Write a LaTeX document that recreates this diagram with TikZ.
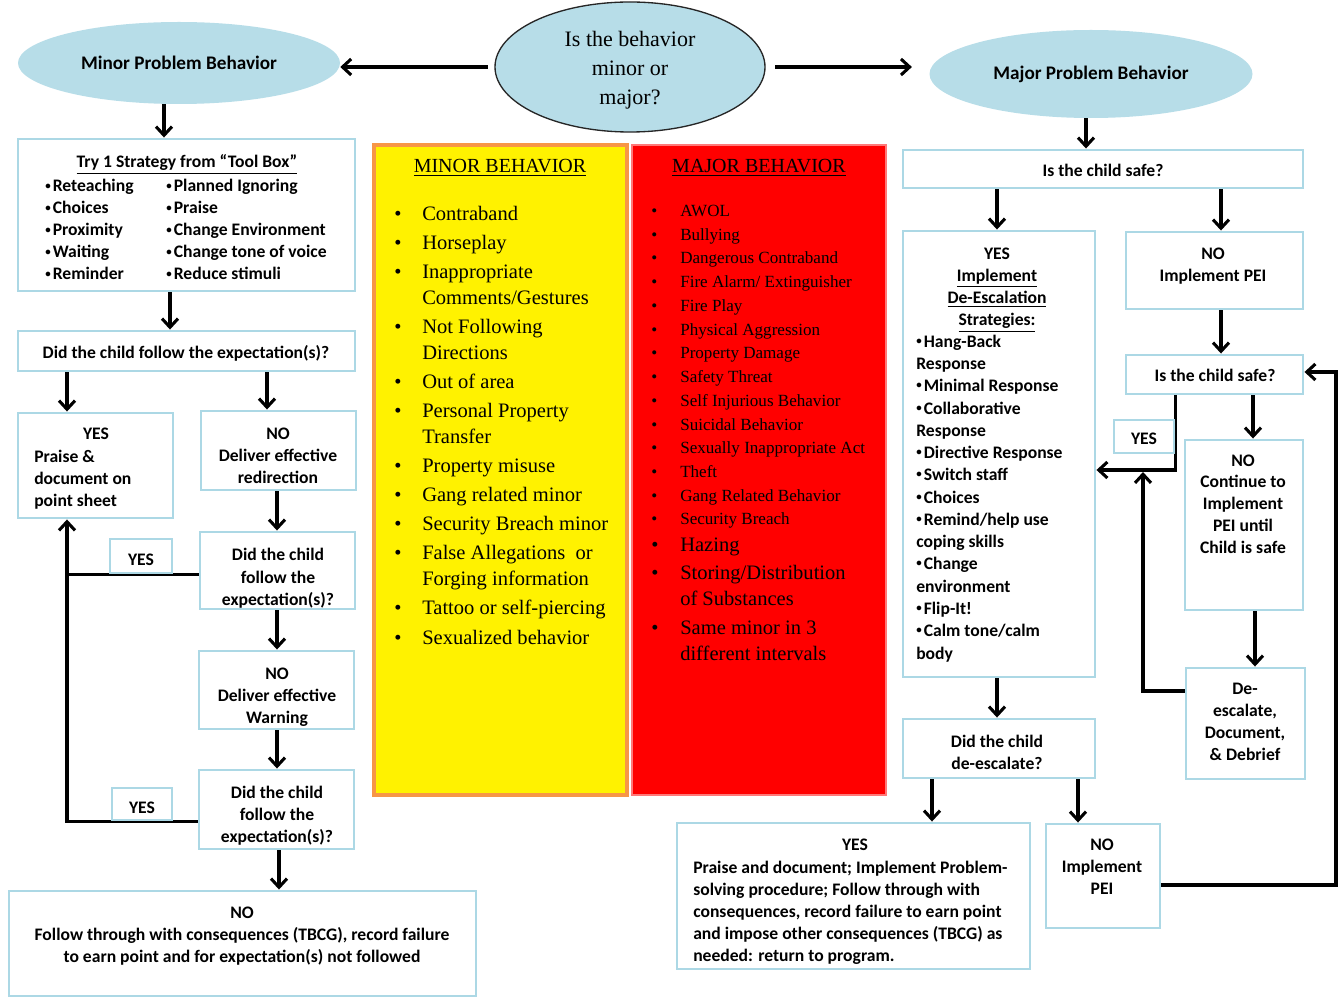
\documentclass[tikz,border=0pt]{standalone}
\usepackage{fontspec}
\setmainfont{Liberation Serif}
\newfontfamily\cb{Carlito}
\usetikzlibrary{arrows.meta,shapes.geometric,calc}
\definecolor{ebl}{RGB}{183,221,232}
\definecolor{bbl}{RGB}{172,216,229}
\definecolor{org}{RGB}{247,150,70}
\definecolor{rbd}{RGB}{255,120,120}
\pgfdeclarelayer{bg}
\pgfsetlayers{bg,main}
\newcommand\mybox[6][]{\node[box,#1,minimum width={(#5-#3)*0.75pt},minimum height={(#6-#4)*0.75pt}] (#2) at ({(#3+#5)/2},{(#4+#6)/2}) {};}
\newcommand\mbul{\makebox[21pt][l]{\textbullet}}
\newcommand\mind{\hspace*{21pt}}
\newcommand\rbul{\makebox[21.75pt][l]{\textbullet}}
\newcommand\rind{\hspace*{21.75pt}}
\newcommand\sbul{\raisebox{0.35ex}{\scalebox{0.62}{•}}\kern1.6pt}
\begin{document}
\begin{tikzpicture}[x=0.75pt,y=-0.75pt,
  box/.style={draw=bbl,line width=2.2pt,fill=white,inner sep=0},
  arr/.style={draw=black,line width=2.3pt,-{Straight Barb[length=6.5pt,width=12pt,line width=2.3pt]}},
  ln/.style={draw=black,line width=2.3pt},
  ct/.style={font=\cb\bfseries\fontsize{13.2}{16.5}\selectfont,align=center,inner sep=0,anchor=base,yshift=-1.5pt},
  lt/.style={font=\cb\bfseries\fontsize{13.2}{16.5}\selectfont,align=left,inner sep=0,anchor=base west,yshift=-1.5pt},
  ell/.style={ellipse,fill=ebl,inner sep=0},
  sl/.style={align=left,inner sep=0,anchor=base west},
]
\useasboundingbox (0,0) rectangle (1340,998);

% ellipses
\node[ell,minimum width=322*0.75pt,minimum height=82*0.75pt,font=\cb\bfseries\fontsize{14.4}{17}\selectfont] (minor) at (179,63) {Minor Problem Behavior};
\node[ell,minimum width=323*0.75pt,minimum height=88*0.75pt,font=\cb\bfseries\fontsize{14.4}{17}\selectfont] (major) at (1091,74) {Major Problem Behavior};
\node[ell,draw=black!85,line width=1pt,minimum width=270*0.75pt,minimum height=130*0.75pt] (q) at (630,67) {};
\node[align=center,inner sep=0,font=\fontsize{16.5}{21.75}\selectfont] (qt) at (630,70) {Is the behavior\\minor or\\major?};

% left column boxes
\mybox{tool}{18}{139}{355}{291}
\node[ct] (toolt) at (187,166) {\underline{Try 1 Strategy from “Tool Box”}};
\node[lt] (toolL) at (45,278) {\sbul Reteaching\\\sbul Choices\\\sbul Proximity\\\sbul Waiting\\\sbul Reminder};
\node[lt] (toolR) at (166,278) {\sbul Planned Ignoring\\\sbul Praise\\\sbul Change Environment\\\sbul Change tone of voice\\\sbul Reduce stimuli};

\mybox{c1}{18}{331}{355}{371}
\node[ct] (c1t) at (186,357) {Did the child follow the expectation(s)?};

\mybox{yes1}{18}{413}{173}{518}
\node[ct] (yes1t) at (96,438) {YES};
\node[lt] (yes1l) at (34,505) {Praise \&\\document on\\point sheet};

\mybox{no1}{201}{411}{356}{490}
\node[ct] (no1t) at (278,482) {NO\\Deliver effective\\redirection};

\mybox{c2}{200}{532}{355}{609}
\node[ct] (c2t) at (278,603) {Did the child\\follow the\\expectation(s)?};

\mybox{ybox1}{110}{539}{172}{573}
\node[ct] (yb1t) at (141,564) {YES};

\mybox{no2}{199}{651}{354}{729}
\node[ct] (no2t) at (277,721) {NO\\Deliver effective\\Warning};

\mybox{c3}{199}{770}{354}{849}
\node[ct] (c3t) at (277,840) {Did the child\\follow the\\expectation(s)?};

\mybox{ybox2}{112}{788}{172}{820}
\node[ct] (yb2t) at (142,811) {YES};

\mybox{nofinal}{9}{891}{476}{996}
\node[ct] (nofinalt) at (242,960) {NO\\Follow through with consequences (TBCG), record failure\\to earn point and for expectation(s) not followed};

% minor behaviour panel
\node[draw=org,fill=yellow,line width=2.5pt,inner sep=0,minimum width=253*0.75pt,minimum height=650*0.75pt] (minbox) at (500.5,470) {};
\node[anchor=base,inner sep=0,font=\fontsize{15}{19.5}\selectfont] (minh) at (500,173) {\underline{MINOR BEHAVIOR}};
\node[sl,font=\fontsize{15.4}{19.5}\selectfont] (minl) at (394,644) {%
\mbul Contraband\\[2.3pt]
\mbul Horseplay\\[2.3pt]
\mbul Inappropriate\\
\mind Comments/Gestures\\[2.3pt]
\mbul Not Following\\
\mind Directions\\[2.3pt]
\mbul Out of area\\[2.3pt]
\mbul Personal Property\\
\mind Transfer\\[2.3pt]
\mbul Property misuse\\[2.3pt]
\mbul Gang related minor\\[2.3pt]
\mbul Security Breach minor\\[2.3pt]
\mbul False Allegations\ \ or\\
\mind Forging information\\[2.3pt]
\mbul Tattoo or self-piercing\\[2.3pt]
\mbul Sexualized behavior};

% major behaviour panel
\node[draw=rbd,fill=red,line width=1pt,inner sep=0,minimum width=254*0.75pt,minimum height=650*0.75pt] (majbox) at (759,470) {};
\node[anchor=base,inner sep=0,font=\fontsize{15}{19.5}\selectfont] (majh) at (759,173) {\underline{MAJOR BEHAVIOR}};
\node[sl,font=\fontsize{12.8}{17.8}\selectfont] (majl) at (651,525) {%
\rbul AWOL\\
\rbul Bullying\\
\rbul Dangerous Contraband\\
\rbul Fire Alarm/ Extinguisher\\
\rbul Fire Play\\
\rbul Physical Aggression\\
\rbul Property Damage\\
\rbul Safety Threat\\
\rbul Self Injurious Behavior\\
\rbul Suicidal Behavior\\
\rbul Sexually Inappropriate Act\\
\rbul Theft\\
\rbul Gang Related Behavior\\
\rbul Security Breach};
\node[sl,font=\fontsize{15.4}{19.5}\selectfont] (majl2) at (651,660.5) {%
\rbul Hazing\\[1.8pt]
\rbul Storing/Distribution\\
\rind of Substances\\[2.3pt]
\rbul Same minor in 3\\
\rind different intervals};

% right side boxes
\mybox{safe1}{903}{150}{1303}{188}
\node[ct] (safe1t) at (1103,175) {Is the child safe?};

\mybox{yesbig}{903}{231}{1095}{677}
\node[ct] (yesbigh) at (997,324) {YES\\\underline{Implement}\\\underline{De-Escalation}\\\underline{Strategies:}};
\node[lt,font=\cb\bfseries\fontsize{13.2}{16.7}\selectfont] (yesbigl) at (916,657) {\sbul Hang-Back\\Response\\\sbul Minimal Response\\\sbul Collaborative\\Response\\\sbul Directive Response\\\sbul Switch staff\\\sbul Choices\\\sbul Remind/help use\\coping skills\\\sbul Change\\environment\\\sbul Flip-It!\\\sbul Calm tone/calm\\body};

\mybox{nopei1}{1126}{232}{1303}{309}
\node[ct] (nopei1t) at (1213,280) {NO\\Implement PEI};

\mybox{safe2}{1126}{355}{1303}{394}
\node[ct] (safe2t) at (1215,380) {Is the child safe?};

\mybox{yesR}{1114}{420}{1174}{453}
\node[ct] (yesRt) at (1144,443) {YES};

\mybox{nocont}{1185}{440}{1303}{610}
\node[ct] (nocontt) at (1243,552) {NO\\Continue to\\Implement\\PEI until\\Child is safe};

\mybox{deesc}{1186}{668}{1305}{779}
\node[ct] (deesct) at (1245,758) {De-\\escalate,\\Document,\\\& Debrief};

\mybox{deq}{903}{719}{1095}{778}
\node[ct] (deqt) at (997,767) {Did the child\\de-escalate?};

\mybox{yesfin}{677}{823}{1030}{969}
\node[ct] (yesfint) at (855,848) {YES};
\node[lt] (yesfinl) at (693,959) {Praise and document; Implement Problem-\\solving procedure; Follow through with\\consequences, record failure to earn point\\and impose other consequences (TBCG) as\\needed: return to program.};

\mybox{nofin}{1046}{824}{1160}{928}
\node[ct] (nofint) at (1102,892) {NO\\Implement\\PEI};

\coordinate (jn) at (1143,472);
\coordinate (rc) at (1336,372);

\begin{pgfonlayer}{bg}
\fill[white] (0,0) rectangle (1340,998);
% top arrows
\draw[arr,shorten <=5pt] (q.west) -- (q.west -| minor.east);
\draw[arr,shorten <=7pt,shorten >=13pt] (q.east) -- (q.east -| major.west);
% left flow
\draw[arr] (minor.south -| 164,0) -- (tool.north -| 164,0);
\draw[arr] (tool.south -| 170,0) -- (c1.north -| 170,0);
\draw[arr] (c1.south -| 67,0) -- (yes1.north -| 67,0);
\draw[arr] (c1.south -| 267,0) -- (no1.north -| 267,0);
\draw[arr] (no1.south -| 277,0) -- (c2.north -| 277,0);
\draw[arr] (c2.south -| 277,0) -- (no2.north -| 277,0);
\draw[arr] (no2.south -| 277,0) -- (c3.north -| 277,0);
\draw[arr] (c3.south -| 279,0) -- (nofinal.north -| 279,0);
\draw[ln] (c2.west |- ybox1.south) -- (ybox1.south -| 67,0);
\draw[arr] (c3.west |- ybox2.south) -| (yes1.south -| 67,0);
% right flow
\draw[arr] (major.south -| 1086,0) -- (safe1.north -| 1086,0);
\draw[arr] (safe1.south -| 997,0) -- (yesbig.north -| 997,0);
\draw[arr] (safe1.south -| 1221,0) -- (nopei1.north -| 1221,0);
\draw[arr] (nopei1.south -| 1221,0) -- (safe2.north -| 1221,0);
\draw[arr] (safe2.south -| 1253,0) -- (nocont.north -| 1253,0);
\draw[arr] (nocont.south -| 1255,0) -- (deesc.north -| 1255,0);
\draw[arr] (yesbig.south -| 997,0) -- (deq.north -| 997,0);
\draw[arr] (deq.south -| 932,0) -- (yesfin.north -| 932,0);
\draw[arr] (deq.south -| 1078,0) -- (nofin.north -| 1078,0);
\draw[arr] (safe2.south -| yesR.east) |- (yesbig.east |- 0,470);
\draw[arr] (deesc.west |- 0,691) -| (jn);
\draw[arr] (nofin.east |- 0,885) -| (rc) -- (rc -| safe2.east);
\end{pgfonlayer}
\end{tikzpicture}
\end{document}
